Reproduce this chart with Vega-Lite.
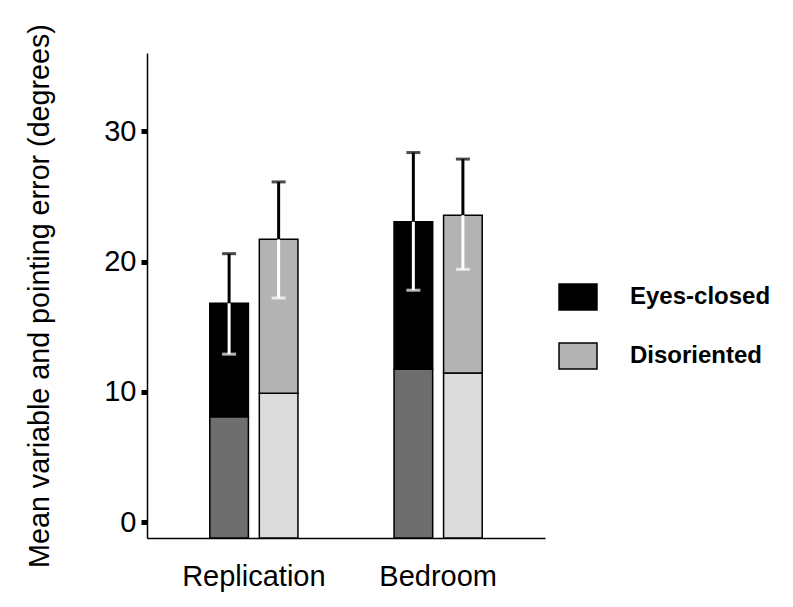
{
  "$schema": "https://vega.github.io/schema/vega-lite/v6.json",
  "width": 398,
  "height": 485,
  "autosize": {"type": "none"},
  "padding": {"left": 147, "top": 53, "right": 248, "bottom": 69},
  "background": "white",
  "config": {
    "view": {"stroke": null},
    "font": "Liberation Sans",
    "axis": {"grid": false},
    "axisX": {"domainColor": "black", "domainWidth": 1.5, "ticks": false, "labelFontSize": 29, "labelColor": "black", "labelPadding": 24, "labelAngle": 0, "labelFont": "Liberation Sans"},
    "axisY": {"domainColor": "black", "domainWidth": 1.5, "tickColor": "black", "tickSize": 6, "tickWidth": 5, "labelFontSize": 29, "labelColor": "black", "labelPadding": 5, "labelFont": "Liberation Sans", "titleFont": "Liberation Sans", "titleFontSize": 28.7, "titleFontWeight": "normal", "titleColor": "black", "titlePadding": 49},
    "legend": {"orient": "none", "legendX": 417, "legendY": 230, "padding": 0, "symbolType": "M-1.46,-1H1.46V1H-1.46Z", "symbolSize": 676, "symbolStrokeColor": "black", "symbolStrokeWidth": 1.5, "labelFontSize": 24, "labelFontWeight": "bold", "labelFont": "Liberation Sans", "labelColor": "black", "labelOffset": 38, "rowPadding": 27}
  },
  "data": {"values": [
    {"group": "Replication", "condition": "Eyes-closed", "variable": 8.1, "total": 16.8, "upper": 20.6, "lower": 12.9},
    {"group": "Replication", "condition": "Disoriented", "variable": 9.9, "total": 21.7, "upper": 26.1, "lower": 17.2},
    {"group": "Bedroom", "condition": "Eyes-closed", "variable": 11.75, "total": 23.05, "upper": 28.35, "lower": 17.8},
    {"group": "Bedroom", "condition": "Disoriented", "variable": 11.45, "total": 23.55, "upper": 27.85, "lower": 19.4}
  ]},
  "encoding": {
    "x": {"field": "group", "type": "nominal", "sort": ["Replication", "Bedroom"], "scale": {"paddingInner": 0.4, "paddingOuter": 0.28}, "title": null},
    "xOffset": {"field": "condition", "type": "nominal", "sort": ["Eyes-closed", "Disoriented"], "scale": {"paddingInner": 0.22, "paddingOuter": 0.226}}
  },
  "layer": [
    {
      "mark": {"type": "bar", "stroke": "black", "strokeWidth": 1.5},
      "encoding": {
        "y": {"field": "variable", "type": "quantitative", "scale": {"domain": [-1.19, 35.98], "zero": false, "nice": false}, "axis": {"values": [0, 10, 20, 30]}, "title": "Mean variable and pointing error (degrees)"},
        "y2": {"datum": -1.19},
        "fill": {"condition": {"test": "datum.condition === 'Eyes-closed'", "value": "#6e6e6e"}, "value": "#dcdcdc"}
      }
    },
    {
      "mark": {"type": "bar", "stroke": "black", "strokeWidth": 1.5},
      "encoding": {
        "y": {"field": "total", "type": "quantitative", "axis": {"values": [0, 10, 20, 30]}, "title": "Mean variable and pointing error (degrees)"},
        "y2": {"field": "variable"},
        "fill": {"field": "condition", "type": "nominal", "scale": {"domain": ["Eyes-closed", "Disoriented"], "range": ["#000000", "#b3b3b3"]}, "legend": {"title": null}}
      }
    },
    {
      "mark": {"type": "rule", "color": "black", "strokeWidth": 3},
      "encoding": {
        "y": {"field": "total", "type": "quantitative", "axis": {"values": [0, 10, 20, 30]}, "title": "Mean variable and pointing error (degrees)"},
        "y2": {"field": "upper"}
      }
    },
    {
      "mark": {"type": "tick", "color": "black", "size": 14, "thickness": 3},
      "encoding": {
        "y": {"field": "upper", "type": "quantitative", "axis": {"values": [0, 10, 20, 30]}, "title": "Mean variable and pointing error (degrees)"}
      }
    },
    {
      "mark": {"type": "rule", "color": "white", "strokeWidth": 3},
      "encoding": {
        "y": {"field": "lower", "type": "quantitative", "axis": {"values": [0, 10, 20, 30]}, "title": "Mean variable and pointing error (degrees)"},
        "y2": {"field": "total"}
      }
    },
    {
      "mark": {"type": "tick", "color": "white", "size": 14, "thickness": 3},
      "encoding": {
        "y": {"field": "lower", "type": "quantitative", "axis": {"values": [0, 10, 20, 30]}, "title": "Mean variable and pointing error (degrees)"}
      }
    }
  ]
}
